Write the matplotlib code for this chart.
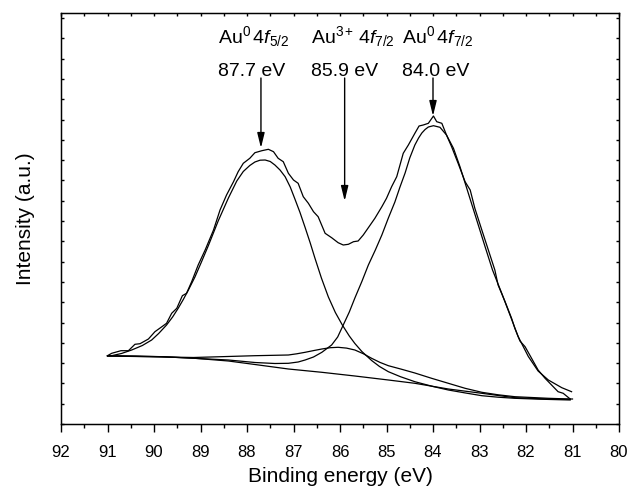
import numpy as np
import matplotlib
matplotlib.use('Agg')
import matplotlib.pyplot as plt
from matplotlib.ticker import MultipleLocator, FixedLocator

plt.rcParams['font.family'] = ['Liberation Sans', 'DejaVu Sans']
plt.rcParams['mathtext.fontset'] = 'custom'
plt.rcParams['mathtext.rm'] = 'Liberation Sans'
plt.rcParams['mathtext.it'] = 'Liberation Sans:italic'

# measured Au 4f spectrum (binding energy in eV, intensity in a.u.)
E_data = [91.00, 90.91, 90.71, 90.55, 90.41, 90.30, 90.12, 89.98, 89.83, 89.73,
          89.62, 89.51, 89.39, 89.30, 89.19, 89.05, 88.90, 88.72, 88.58, 88.44,
          88.29, 88.19, 88.08, 87.94, 87.83, 87.68, 87.54, 87.43, 87.33, 87.22,
          87.11, 87.00, 86.90, 86.79, 86.68, 86.57, 86.47, 86.32, 86.18, 86.04,
          85.93, 85.82, 85.71, 85.61, 85.50, 85.35, 85.25, 85.10, 85.00, 84.89,
          84.78, 84.64, 84.53, 84.39, 84.30, 84.21, 84.10, 83.99, 83.92, 83.81,
          83.71, 83.60, 83.46, 83.31, 83.20, 83.10, 82.95, 82.81, 82.67, 82.60,
          82.45, 82.31, 82.24, 82.13, 82.02, 81.88, 81.74, 81.59, 81.45, 81.31,
          81.20, 81.05, 81.00]
I_data = [68.3, 70.7, 73.3, 73.3, 79.7, 80.3, 85.0, 92.3, 97.3, 100.7,
          110.7, 115.7, 128.3, 130.7, 142.3, 159.0, 174.0, 194.0, 214.0, 229.0,
          242.3, 252.3, 260.7, 265.7, 271.3, 273.3, 274.7, 272.3, 265.7, 262.3,
          250.7, 244.0, 240.7, 227.3, 220.7, 212.3, 207.3, 190.7, 186.3, 181.3,
          179.0, 179.7, 182.3, 183.0, 189.0, 199.0, 205.7, 217.3, 225.7, 237.3,
          247.3, 270.7, 279.0, 290.7, 298.0, 299.0, 300.7, 308.0, 302.3, 300.7,
          289.0, 277.3, 260.7, 242.3, 234.0, 215.7, 194.0, 174.0, 154.0, 139.0,
          122.3, 105.7, 95.7, 83.0, 77.3, 65.7, 54.0, 45.7, 39.0, 32.3,
          30.7, 25.0, 25.0]

# Au0 4f5/2 component (on background)
E_p1 = [91.00, 90.91, 90.70, 90.48, 90.25, 90.05, 89.90, 89.73, 89.60, 89.48,
        89.37, 89.26, 89.12, 88.98, 88.83, 88.62, 88.40, 88.22, 88.08, 87.94,
        87.83, 87.72, 87.61, 87.50, 87.40, 87.29, 87.18, 87.07, 86.97, 86.86,
        86.75, 86.64, 86.54, 86.40, 86.25, 86.10, 85.95, 85.80, 85.68, 85.53,
        85.32, 85.15, 84.96, 84.70, 84.39, 84.00, 83.67, 83.30, 82.95, 82.60,
        82.24, 81.70, 81.05]
I_p1 = [68.3, 68.3, 70.5, 74.0, 78.5, 84.0, 90.5, 99.0, 107.0, 115.7,
        124.5, 134.0, 147.0, 162.0, 178.5, 203.0, 226.0, 243.0, 252.5, 258.5,
        262.0, 263.8, 264.0, 262.5, 259.0, 254.0, 247.3, 237.0, 225.0, 211.5,
        196.5, 181.0, 166.0, 146.0, 127.0, 111.5, 99.0, 88.0, 80.5, 72.5,
        63.5, 57.5, 52.3, 47.3, 42.3, 37.5, 34.0, 31.0, 28.3, 26.8,
        25.7, 24.8, 24.0]

# Au0 4f7/2 component (on background)
E_p2 = [91.00, 89.83, 88.40, 87.83, 87.40, 87.11, 86.90, 86.75, 86.57, 86.39,
        86.18, 86.05, 85.93, 85.80, 85.68, 85.53, 85.39, 85.24, 85.10, 84.96,
        84.82, 84.71, 84.60, 84.50, 84.39, 84.31, 84.24, 84.17, 84.10, 83.99,
        83.85, 83.71, 83.56, 83.42, 83.24, 83.06, 82.88, 82.72, 82.52, 82.34,
        82.17, 81.95, 81.74, 81.52, 81.23, 81.02]
I_p2 = [68.0, 67.3, 64.0, 61.5, 60.5, 60.7, 62.0, 64.0, 67.0, 71.7,
        79.0, 87.0, 99.0, 112.0, 126.0, 142.5, 159.0, 174.0, 189.0, 206.0,
        222.0, 237.0, 251.0, 266.0, 279.0, 286.0, 291.0, 294.5, 297.0, 298.3,
        296.7, 289.0, 275.7, 257.3, 230.7, 204.0, 177.3, 154.0, 130.5, 108.5,
        87.5, 67.5, 53.0, 44.0, 36.3, 32.3]

# Au3+ 4f7/2 component (on background)
E_p3 = [91.00, 89.15, 87.83, 87.11, 86.93, 86.75, 86.57, 86.39, 86.21, 86.04,
        85.86, 85.68, 85.50, 85.32, 85.14, 84.96, 84.68, 84.39, 84.03, 83.67,
        83.31, 82.95, 82.60, 82.24, 81.52, 81.05]
I_p3 = [68.0, 66.5, 68.3, 69.0, 70.2, 71.7, 73.4, 75.0, 76.3, 76.7,
        75.9, 74.0, 70.3, 65.7, 61.6, 58.3, 54.8, 51.0, 45.7, 40.7,
        35.7, 31.7, 29.2, 27.3, 25.7, 25.0]

# Shirley background
E_bg = [91.00, 90.40, 89.83, 89.12, 88.40, 87.83, 87.11, 86.39, 85.68, 84.96,
        84.39, 83.67, 82.95, 82.24, 81.52, 81.05]
I_bg = [68.3, 68.0, 67.3, 65.7, 63.0, 59.5, 55.0, 51.7, 48.0, 44.0,
        40.7, 35.0, 30.7, 26.3, 25.0, 24.7]

peak_E = [87.7, 85.9, 84.0]
peak_names = [r'Au$^{0}\,4f_{5/2}$', r'Au$^{3+}\,4f_{7/2}$', r'Au$^{0}\,4f_{7/2}$']
arrow_tips = [276, 223, 308]

fig = plt.figure(figsize=(6.28, 4.88), dpi=100)
ax = fig.add_axes([61/628, 64/488, 558/628, 411/488])

for E, I in [(E_bg, I_bg), (E_p3, I_p3), (E_p2, I_p2), (E_p1, I_p1), (E_data, I_data)]:
    ax.plot(E, I, color='black', lw=0.9)

ax.set_xlim(92, 80)
ax.set_ylim(0, 411)

# bottom axis: ticks outward, labelled every 1 eV
ax.xaxis.set_major_locator(MultipleLocator(1))
ax.xaxis.set_minor_locator(MultipleLocator(0.5))
ax.tick_params(axis='x', which='major', direction='out', length=5.5, width=1,
               labelsize=12, pad=9.5)
ax.tick_params(axis='x', which='minor', direction='out', length=3, width=1)
ax.xaxis.set_major_formatter(plt.FuncFormatter(lambda v, p: '%d' % v))

# y axis: unlabelled inward ticks on both sides
ax.yaxis.set_major_locator(FixedLocator(np.arange(0, 411, 20.3)))
ax.tick_params(axis='y', which='major', direction='in', length=2.5, width=1,
               left=True, right=True, labelleft=False)

# top axis: small inward ticks every 0.5 eV
top = ax.twiny()
top.set_xlim(92, 80)
top.xaxis.set_major_locator(MultipleLocator(0.5))
top.tick_params(axis='x', direction='in', length=2.5, width=1, labeltop=False)

for s in ax.spines.values():
    s.set_linewidth(1)

ax.set_xlabel('Binding energy (eV)', fontsize=15, labelpad=5)
ax.set_ylabel('Intensity (a.u.)', fontsize=15, labelpad=19)

text_x = [88.62, 86.63, 84.67]
for name, e, tip, tx in zip(peak_names, peak_E, arrow_tips, text_x):
    ax.text(tx, 387, name, fontsize=14, ha='left', va='center')
    ax.text(tx, 352, '%.1f eV' % e, fontsize=14, ha='left', va='center')
    ax.annotate('', xy=(e, tip), xytext=(e, 346),
                arrowprops=dict(arrowstyle='-|>,head_length=0.9,head_width=0.22',
                                color='black', lw=1, mutation_scale=10,
                                shrinkA=0, shrinkB=0))

fig.savefig('out.png', dpi=100)
